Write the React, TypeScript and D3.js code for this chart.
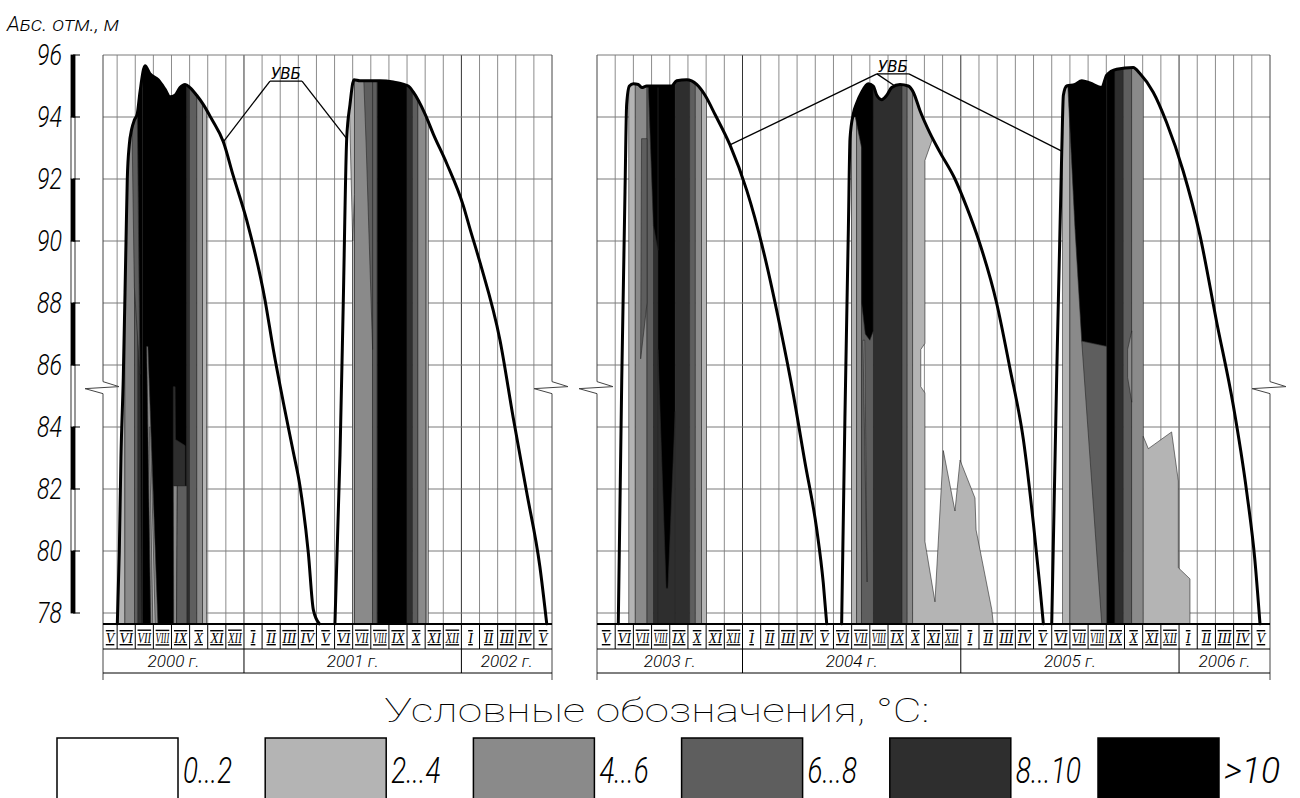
import React from "react";
import * as d3 from "d3";

type Pt = [number, number];
type Band = [number, number, number];
type Patch = [number, Pt[]];

// temperature classes, °C
const classLabels = ["0...2", "2...4", "4...6", "6...8", "8...10", ">10"];
const classColors = ["#ffffff", "#b4b4b4", "#8a8a8a", "#5e5e5e", "#2e2e2e", "#000000"];

const elevTicks = [78, 80, 82, 84, 86, 88, 90, 92, 94, 96];
const romanMonths = ["I", "II", "III", "IV", "V", "VI", "VII", "VIII", "IX", "X", "XI", "XII"];

// time axis: months counted from January 2000
const leftSpan: Pt = [4.22, 29];
const rightSpan: Pt = [40, 77];
const BOTTOM = 77.65;

// УВБ (water level), [month, elevation m]
const uvb2000: Pt[] = [
  [5.01, 77.65], [5.12, 80], [5.21, 83], [5.34, 85.6], [5.49, 90], [5.56, 92], [5.67, 93.1],
  [5.8, 93.6], [5.95, 93.9], [6.11, 94.1], [6.26, 94.8], [6.54, 95.65], [6.81, 95.4],
  [7.27, 95.2], [7.64, 94.9], [7.92, 94.65], [8.19, 94.7], [8.47, 94.95], [8.75, 95.05],
  [9.02, 94.95], [9.39, 94.7], [9.76, 94.4], [10.2, 93.95], [10.86, 93.2], [11.41, 92.1],
  [12.15, 90.67], [13.16, 88.1], [13.62, 86.5], [14.17, 84.8], [14.72, 83.2], [15.09, 82.1],
  [15.55, 79.95], [15.83, 78.1], [16.16, 77.65],
];
const uvb2001: Pt[] = [
  [17.02, 77.65], [17.3, 83.1], [17.48, 88], [17.67, 93.3], [17.85, 94.4], [18.07, 95.2],
  [18.4, 95.17], [19.51, 95.17], [20.24, 95.13], [21.07, 95.0], [21.35, 94.8], [21.99, 94.1],
  [22.45, 93.45], [23.19, 92.5], [24.1, 91.15], [24.47, 90.4], [25.03, 89.3], [26.13, 86.8],
  [26.86, 84.3], [27.6, 81.9], [28.33, 79.5], [28.71, 77.65],
];
const uvb2003: Pt[] = [
  [41.17, 77.65], [41.36, 85.5], [41.54, 91.6], [41.63, 94.4], [41.78, 95.0], [42.0, 95.07],
  [42.27, 95.05], [42.46, 94.95], [42.73, 95.0], [44.1, 95.0], [44.38, 95.17], [44.93, 95.2],
  [45.48, 95.05], [45.94, 94.7], [46.49, 94.08], [47.31, 93.1], [48.23, 91.64], [49.14, 89.7],
  [50.06, 87.25], [50.79, 85.06], [51.43, 82.87], [52.08, 80.7], [52.44, 78.97], [52.63, 77.65],
];
const uvb2004: Pt[] = [
  [53.45, 77.65], [53.63, 84.3], [53.82, 90.4], [53.91, 93.3], [54.09, 94.1], [54.28, 94.45],
  [54.55, 94.8], [54.92, 95.07], [55.19, 95.0], [55.38, 94.7], [55.65, 94.56], [55.93, 94.7],
  [56.2, 94.95], [56.66, 95.05], [57.11, 95.0], [57.39, 94.8], [57.76, 94.2], [58.31, 93.47],
  [58.86, 92.86], [59.68, 92.0], [60.32, 91.1], [61.0, 90.0], [61.97, 88.0], [62.7, 85.9],
  [63.44, 83.6], [63.99, 80.9], [64.35, 78.85], [64.54, 77.65],
];
const uvb2005: Pt[] = [
  [65.0, 77.65], [65.27, 85.55], [65.55, 92.86], [65.64, 94.7], [65.82, 95.0], [66.28, 95.05],
  [66.65, 95.17], [67.1, 95.1], [67.75, 94.95], [68.02, 95.35], [68.57, 95.54], [69.48, 95.6],
  [69.85, 95.4], [70.58, 94.8], [71.31, 93.83], [72.23, 92.25], [73.15, 90.18], [74.07, 87.38],
  [74.98, 84.7], [75.72, 81.9], [76.17, 79.7], [76.45, 77.65],
];

// vertical temperature bands [from month, to month, class]
const bandsLeft: Band[] = [
  [5.0, 5.43, 1], [5.43, 5.95, 2], [5.95, 6.15, 3], [6.15, 6.4, 4], [6.4, 8.85, 5],
  [8.85, 9.0, 4], [9.0, 9.4, 3], [9.4, 9.72, 2], [9.72, 9.94, 1],
  [18.0, 18.1, 1], [18.1, 19.1, 2], [19.1, 19.35, 3], [19.35, 21.0, 5], [21.0, 21.3, 4],
  [21.3, 21.6, 3], [21.6, 22.05, 2], [22.05, 22.17, 1],
];
const bandsRight: Band[] = [
  [41.75, 42.1, 1], [42.1, 42.75, 2], [42.75, 43.1, 3], [43.1, 43.35, 4], [43.35, 44.3, 5],
  [44.3, 45.1, 4], [45.1, 45.4, 3], [45.4, 45.75, 2], [45.75, 46.03, 1],
  [54.0, 54.28, 1], [54.28, 54.55, 2], [54.55, 55.19, 3], [55.19, 56.77, 4], [56.77, 57.05, 3],
  [57.05, 57.35, 2],
  [65.6, 66.0, 1], [66.0, 68.02, 2], [68.02, 68.48, 5], [68.48, 68.93, 4], [68.93, 69.4, 3],
  [69.4, 70.03, 2],
];

// isotherm patches [class, outline in month/elevation]
const patchesLeft: Patch[] = [
  [5, [[6.08, 96], [6.4, 96], [6.4, 77.65], [6.35, 77.65], [6.26, 85.7]]],
  [3, [[5.8, 94.5], [6.08, 96], [6.26, 85.7], [5.95, 88.5]]],
  [2, [[6.63, 86.6], [6.7, 86.6], [7.25, 77.65], [6.85, 77.65]]],
  [1, [[6.78, 84.0], [6.84, 84.0], [7.1, 77.65], [6.97, 77.65]]],
  [4, [[8.1, 85.3], [8.2, 85.3], [8.22, 83.6], [8.75, 83.4], [8.75, 82.1], [8.1, 82.1]]],
  [2, [[8.1, 82.1], [8.32, 82.1], [8.28, 77.65], [8.12, 77.65]]],
  [3, [[8.32, 82.1], [8.85, 82.1], [8.85, 77.65], [8.28, 77.65]]],
  [1, [[17.75, 96], [18.1, 96], [18.1, 91.5], [18.0, 90.0]]],
  [3, [[18.6, 95.4], [19.1, 95.4], [19.1, 86.5], [18.75, 93.0]]],
];
const patchesRight: Patch[] = [
  [3, [[42.45, 93.3], [42.75, 93.3], [42.75, 88], [42.4, 86.2]]],
  [5, [[42.8, 95.4], [43.35, 95.4], [43.35, 89.7], [43.1, 90.5]]],
  [4, [[43.35, 86.5], [43.8, 78.8], [43.9, 78.8], [44.3, 84.5], [44.3, 77.65], [43.35, 77.65]]],
  [5, [[53.9, 96], [55.19, 96], [55.19, 87.1], [55.0, 86.8], [54.75, 87.0], [54.55, 88.0],
    [54.55, 93.0], [54.2, 94.0], [53.95, 94.0]]],
  [2, [[54.62, 86.8], [54.72, 86.8], [54.85, 79.0]]],
  [1, [[57.35, 96], [58.45, 96], [58.45, 93.3], [58.03, 92.6], [58.03, 86.7], [57.8, 86.5],
    [57.8, 85.3], [58.03, 85.1], [58.03, 80.3], [58.13, 79.95], [58.58, 78.36], [59.04, 83.24],
    [59.68, 81.29], [59.96, 82.93], [60.78, 81.71], [60.84, 80.68], [61.7, 78.12],
    [61.79, 77.65], [57.35, 77.65]]],
  [5, [[65.8, 96], [68.02, 96], [68.02, 86.6], [66.65, 86.77], [66.28, 90.4], [65.91, 94.7]]],
  [3, [[66.65, 86.77], [68.02, 86.6], [68.02, 77.65], [67.75, 77.65]]],
  [2, [[69.4, 87.1], [69.17, 86.5], [69.17, 85.6], [69.4, 84.8]]],
  [1, [[70.03, 83.7], [70.31, 83.3], [71.59, 83.84], [71.96, 82.26], [71.96, 79.46],
    [72.6, 79.1], [72.6, 77.65], [70.03, 77.65]]],
];

// УВБ labels and leader targets [side, point]
const uvbLabelLeft: Pt = [14.32, 95.16];
const uvbLeadersLeft: [number, Pt][] = [[-1, [10.86, 93.2]], [1, [17.67, 93.3]]];
const uvbLabelRight: Pt = [56.27, 95.39];
const uvbLeadersRight: [number, Pt][] = [[-1, [47.31, 93.1]], [-1, [56.38, 95.0]], [1, [65.55, 92.9]]];

const SANS = "'DejaVu Sans', sans-serif";
const THIN = "Roboto, Inter, 'DejaVu Sans', sans-serif";
const SERIF = "'Liberation Serif', 'DejaVu Serif', serif";

const y = d3.scaleLinear().domain([78, 96]).range([613, 55]);
const ROW_TOP = 624, ROW_MID = 649, ROW_BOT = 673, EDGE_BOT = 680;
const MONTH_FS = 14;

// natural width of a roman numeral in the serif italic face, em-based
const romanWidth = (s: string) =>
  s.split("").reduce((w, c) => w + (c === "I" ? 0.34 : 0.64), 0) * MONTH_FS;
// approximate glyph widths for the narrow legend lettering
const labelWidth = (s: string, digit: number) =>
  s.split("").reduce((w, c) => w + (c === "." ? digit * 0.36 : c === ">" ? digit * 1.5 : digit), 0);

function Panel({ id, span, range, curves, bands, patches, label, leaders }: {
  id: string; span: Pt; range: Pt; curves: Pt[][]; bands: Band[]; patches: Patch[];
  label: Pt; leaders: [number, Pt][];
}) {
  const x = d3.scaleLinear().domain(span).range(range);
  const [m0, m1] = span;
  const yb = y(BOTTOM);
  const area = d3.area<Pt>().x((d) => x(d[0])).y0(yb).y1((d) => y(d[1])).curve(d3.curveMonotoneX);
  const line = d3.line<Pt>().x((d) => x(d[0])).y((d) => y(d[1])).curve(d3.curveMonotoneX);
  const poly = d3.line<Pt>().x((d) => x(d[0])).y((d) => y(d[1]));

  const inner = d3.range(Math.ceil(m0), m1).filter((m) => m > m0 && m < m1);
  const monthCells = d3.range(Math.floor(m0), Math.ceil(m1)).map((k) => ({
    k, a: Math.max(k, m0), b: Math.min(k + 1, m1),
  }));
  const years = d3.range(Math.floor(m0 / 12), Math.floor((m1 - 0.001) / 12) + 1).map((yr) => ({
    yr, a: Math.max(yr * 12, m0), b: Math.min(yr * 12 + 12, m1),
  }));
  const breakY = y(85.27);
  const edges = [x(m0), x(m1)];

  const lx = x(label[0]);
  const ly = y(label[1]);

  return (
    <g>
      <clipPath id={`clip-${id}`}>
        {curves.map((c, i) => <path key={i} d={area(c) ?? ""} />)}
      </clipPath>
      {/* grid */}
      {inner.map((m) => (
        <line key={`v${m}`} x1={x(m)} x2={x(m)} y1={y(96)} y2={ROW_TOP}
          stroke={m % 12 === 0 ? "#333" : "#8c8c8c"} strokeWidth={1} />
      ))}
      {elevTicks.map((e) => (
        <line key={`h${e}`} x1={x(m0)} x2={x(m1)} y1={y(e)} y2={y(e)} stroke="#7a7a7a" strokeWidth={1} />
      ))}
      {/* isotherm fills */}
      <g clipPath={`url(#clip-${id})`}>
        {bands.map(([a, b, c], i) => (
          <rect key={`b${i}`} x={x(a)} width={x(b) - x(a)} y={y(96.5)} height={yb + 2 - y(96.5)}
            fill={classColors[c]} stroke="#262626" strokeWidth={0.6} />
        ))}
        {patches.map(([c, pts], i) => (
          <path key={`p${i}`} d={(poly(pts) ?? "") + "Z"} fill={classColors[c]}
            stroke="#262626" strokeWidth={0.6} />
        ))}
      </g>
      {/* water level */}
      {curves.map((c, i) => (
        <path key={`c${i}`} d={line(c) ?? ""} fill="none" stroke="#000" strokeWidth={3}
          strokeLinejoin="round" strokeLinecap="round" />
      ))}
      {/* УВБ label */}
      <text x={lx} y={ly - 2} textAnchor="middle" fontFamily={SANS} fontStyle="italic" fontSize={15}
        textLength={30} lengthAdjust="spacingAndGlyphs">УВБ</text>
      <line x1={lx - 16} x2={lx + 16} y1={ly} y2={ly} stroke="#000" strokeWidth={1.3} />
      {leaders.map(([side, p], i) => (
        <line key={`l${i}`} x1={lx + side * 16} y1={ly} x2={x(p[0])} y2={y(p[1])} stroke="#000" strokeWidth={1.3} />
      ))}
      {/* frame edges with break marks */}
      {edges.map((ex, i) => (
        <g key={`e${i}`}>
          <line x1={ex} x2={ex} y1={y(96)} y2={breakY - 6} stroke="#444" strokeWidth={1} />
          <line x1={ex} x2={ex} y1={breakY + 6} y2={EDGE_BOT} stroke="#444" strokeWidth={1} />
          <polyline points={`${ex},${breakY - 6} ${ex + 16},${breakY - 1} ${ex - 18},${breakY + 1} ${ex},${breakY + 6}`}
            fill="none" stroke="#444" strokeWidth={1} />
        </g>
      ))}
      {/* month & year rows */}
      <line x1={x(m0)} x2={x(m1)} y1={ROW_TOP} y2={ROW_TOP} stroke="#000" strokeWidth={2} />
      <line x1={x(m0)} x2={x(m1)} y1={ROW_MID} y2={ROW_MID} stroke="#000" strokeWidth={1} />
      <line x1={x(m0)} x2={x(m1)} y1={ROW_BOT} y2={ROW_BOT} stroke="#000" strokeWidth={1} />
      {inner.map((m) => (
        <line key={`ms${m}`} x1={x(m)} x2={x(m)} y1={ROW_TOP} y2={m % 12 === 0 ? ROW_BOT : ROW_MID}
          stroke="#000" strokeWidth={1} />
      ))}
      {monthCells.map(({ k, a, b }) => {
        const s = romanMonths[k % 12];
        const cw = x(b) - x(a);
        const sx = Math.min(1, (cw - 4) / romanWidth(s));
        return (
          <text key={`mt${k}`} transform={`translate(${(x(a) + x(b)) / 2},643) scale(${sx},1)`}
            textAnchor="middle" fontFamily={SERIF} fontStyle="italic" fontSize={MONTH_FS}
            style={{ textDecoration: "underline overline" }}>{s}</text>
        );
      })}
      {years.map(({ yr, a, b }) => (
        <text key={`y${yr}`} x={(x(a) + x(b)) / 2} y={667} textAnchor="middle" fontFamily={THIN}
          fontStyle="italic" fontWeight={300} fontSize={16} textLength={52}
          lengthAdjust="spacingAndGlyphs">{`${2000 + yr} г.`}</text>
      ))}
    </g>
  );
}

export default function App() {
  const legendX = d3.scaleLinear().domain([0, classLabels.length - 1]).range([57, 1098]);
  return (
    <svg width={1300} height={798} style={{ position: "absolute", left: 0, top: 0, background: "#fff" }}>
      <rect width={1300} height={798} fill="#fff" />
      {/* y axis */}
      <text x={7} y={31} fontFamily={THIN} fontStyle="italic" fontSize={20} fontWeight={300}
        style={{ fontVariant: "small-caps" }} textLength={112} lengthAdjust="spacingAndGlyphs">
        Абс. отм., м
      </text>
      {elevTicks.slice(0, -1).map((e, i) => (
        <rect key={`ax${e}`} x={71} width={4} y={y(e + 2)} height={y(e) - y(e + 2)}
          fill={i % 2 === 0 ? "#000" : "#fff"} stroke="#000" strokeWidth={0.8} />
      ))}
      {elevTicks.map((e) => (
        <g key={`t${e}`}>
          <line x1={73} x2={80} y1={y(e)} y2={y(e)} stroke="#000" strokeWidth={1} />
          <text x={62} y={y(e)} dy="0.36em" textAnchor="end" fontFamily={THIN} fontStyle="italic"
            fontWeight={300} fontSize={29} textLength={25} lengthAdjust="spacingAndGlyphs">{e}</text>
        </g>
      ))}
      <Panel id="left" span={leftSpan} range={[103, 552]} curves={[uvb2000, uvb2001]}
        bands={bandsLeft} patches={patchesLeft} label={uvbLabelLeft} leaders={uvbLeadersLeft} />
      <Panel id="right" span={rightSpan} range={[597, 1270]} curves={[uvb2003, uvb2004, uvb2005]}
        bands={bandsRight} patches={patchesRight} label={uvbLabelRight} leaders={uvbLeadersRight} />
      {/* legend */}
      <text x={657} y={722} textAnchor="middle" fontFamily={THIN} fontWeight={100}
        fontSize={34} textLength={545} lengthAdjust="spacingAndGlyphs">Условные обозначения, °C:</text>
      {classLabels.map((lab, i) => (
        <g key={lab}>
          <rect x={legendX(i)} y={738} width={121} height={70} fill={classColors[i]} stroke="#000" strokeWidth={1.5} />
          <text x={legendX(i) + 126} y={783} fontFamily={THIN} fontStyle="italic" fontWeight={300}
            fontSize={36} textLength={labelWidth(lab, 16)} lengthAdjust="spacingAndGlyphs">{lab}</text>
        </g>
      ))}
    </svg>
  );
}
